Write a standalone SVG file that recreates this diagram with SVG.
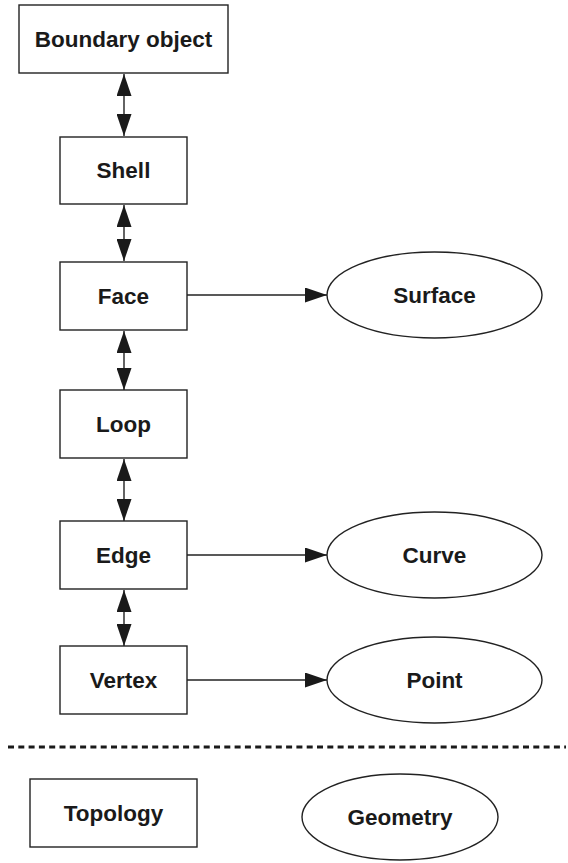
<svg xmlns="http://www.w3.org/2000/svg" width="568" height="863" viewBox="0 0 568 863">
<style>
.box{fill:#fff;stroke:#222;stroke-width:1.4}
.lbl{font-family:"Liberation Sans",Arial,sans-serif;font-weight:bold;font-size:22.5px;fill:#1a1a1a;text-anchor:middle}
.con{stroke:#222;stroke-width:1.4;fill:none}
</style>
<defs>
<marker id="ah" markerUnits="userSpaceOnUse" markerWidth="22" markerHeight="15" refX="22" refY="7.5" orient="auto-start-reverse">
<path d="M0,0 L22,7.5 L0,15 z" fill="#1a1a1a"/>
</marker>
</defs>
<rect width="568" height="863" fill="#fff"/>
<g id="connectors">
<line class="con" x1="124" y1="74" x2="124" y2="136" marker-start="url(#ah)" marker-end="url(#ah)"/>
<line class="con" x1="124" y1="205" x2="124" y2="261" marker-start="url(#ah)" marker-end="url(#ah)"/>
<line class="con" x1="124" y1="331" x2="124" y2="390" marker-start="url(#ah)" marker-end="url(#ah)"/>
<line class="con" x1="124" y1="459" x2="124" y2="521" marker-start="url(#ah)" marker-end="url(#ah)"/>
<line class="con" x1="124" y1="590" x2="124" y2="646" marker-start="url(#ah)" marker-end="url(#ah)"/>
<line class="con" x1="187" y1="295" x2="327" y2="295" marker-end="url(#ah)"/>
<line class="con" x1="187" y1="555" x2="327" y2="555" marker-end="url(#ah)"/>
<line class="con" x1="187" y1="680" x2="327" y2="680" marker-end="url(#ah)"/>
<line x1="8" y1="747" x2="566" y2="747" stroke="#1a1a1a" stroke-width="2.8" stroke-dasharray="6,4.3"/>
</g>
<g id="boundary"><rect class="box" x="19" y="5" width="209" height="68"/><text class="lbl" x="123.5" y="47">Boundary object</text></g>
<g id="shell"><rect class="box" x="60" y="137" width="127" height="67"/><text class="lbl" x="123.5" y="177.5">Shell</text></g>
<g id="face"><rect class="box" x="60" y="262" width="127" height="68"/><text class="lbl" x="123.5" y="303.5">Face</text></g>
<g id="loop"><rect class="box" x="60" y="390" width="127" height="68"/><text class="lbl" x="123.5" y="431.5">Loop</text></g>
<g id="edge"><rect class="box" x="60" y="521" width="127" height="68"/><text class="lbl" x="123.5" y="562.5">Edge</text></g>
<g id="vertex"><rect class="box" x="60" y="646" width="127" height="68"/><text class="lbl" x="123.5" y="687.5">Vertex</text></g>
<g id="surface"><ellipse class="box" cx="434.5" cy="295" rx="107.5" ry="43"/><text class="lbl" x="434.5" y="302.5">Surface</text></g>
<g id="curve"><ellipse class="box" cx="434.5" cy="555" rx="107.5" ry="43"/><text class="lbl" x="434.5" y="562.5">Curve</text></g>
<g id="point"><ellipse class="box" cx="434.5" cy="680" rx="107.5" ry="43"/><text class="lbl" x="434.5" y="687.5">Point</text></g>
<g id="topology"><rect class="box" x="30" y="779" width="167" height="68"/><text class="lbl" x="113.5" y="820.5">Topology</text></g>
<g id="geometry"><ellipse class="box" cx="400" cy="817" rx="98" ry="43"/><text class="lbl" x="400" y="824.5">Geometry</text></g>
</svg>
